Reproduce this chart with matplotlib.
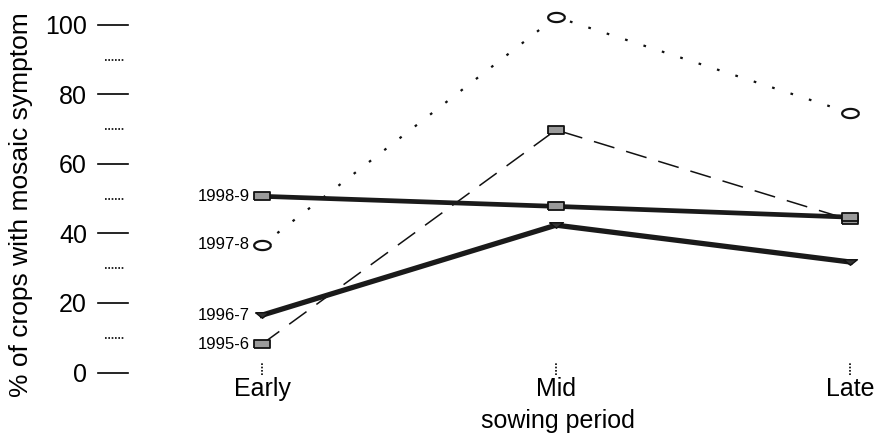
import numpy as np
import matplotlib
matplotlib.use('Agg')
import matplotlib.pyplot as plt
import matplotlib.transforms as mtransforms

plt.rcParams['font.family'] = ['Liberation Sans', 'DejaVu Sans']

periods = ['Early', 'Mid', 'Late']
period_pos = [0, 1, 2]

seasons = ['1998-9', '1997-8', '1996-7', '1995-6']
pct_1998 = [50.7, 47.8, 44.7]
pct_1997 = [36.7, 102.3, 74.7]
pct_1996 = [16.5, 42.4, 31.8]
pct_1995 = [8.2, 69.8, 43.9]

major_ticks = [0, 20, 40, 60, 80, 100]
minor_ticks = [10, 30, 50, 70, 90]

# marker shapes (flattened, as in the scanned original)
rect = [(-1, -0.45), (1, -0.45), (1, 0.45), (-1, 0.45), (-1, -0.45)]
t = np.linspace(0, 2 * np.pi, 41)
ellipse = list(zip(np.cos(t), 0.55 * np.sin(t)))
tri = [(-1, 0.4), (1, 0.4), (0, -0.4), (-1, 0.4)]

fig = plt.figure(figsize=(8.82, 4.38), dpi=100)
ax = fig.add_axes([98 / 882, 43 / 438, 777 / 882, 385 / 438])

styles = {
    '1998-9': dict(color='#1a1a1a', lw=3.4, ls='-', marker=rect, ms=12,
                   mfc='#9a9a9a', mec='#111111', mew=1.3, zorder=4),
    '1997-8': dict(color='#111111', lw=1.6, dashes=(1.2, 7.5), marker=ellipse, ms=12,
                   mfc='white', mec='#111111', mew=1.6, zorder=3),
    '1996-7': dict(color='#1a1a1a', lw=3.8, ls='-', marker=tri, ms=10,
                   mfc='#333333', mec='#111111', mew=1.0, zorder=4),
    '1995-6': dict(color='#111111', lw=1.1, dashes=(14, 8), marker=rect, ms=12,
                   mfc='#9a9a9a', mec='#111111', mew=1.3, zorder=3),
}
series = {'1998-9': pct_1998, '1997-8': pct_1997, '1996-7': pct_1996, '1995-6': pct_1995}

for name in seasons:
    vals = series[name]
    ax.plot(period_pos, vals, **styles[name])
    ax.annotate(name, (period_pos[0], vals[0]), xytext=(-9, 0), textcoords='offset points',
                ha='right', va='center', fontsize=12)

ax.set_xlim(-0.558, 2.085)
ax.set_ylim(-6.47, 104.3)

for s in ax.spines.values():
    s.set_visible(False)
ax.spines['bottom'].set_position(('data', -1.0))

# y ticks: solid majors, dotted minors
trans = mtransforms.blended_transform_factory(ax.transAxes, ax.transData)
for v in major_ticks:
    ax.plot([0, 0.0386], [v, v], transform=trans, color='k', lw=1.2, clip_on=False)
for v in minor_ticks:
    ax.plot([0.009, 0.035], [v, v], transform=trans, color='k', lw=1.2,
            ls=(0, (1, 1)), clip_on=False)
ax.set_yticks(major_ticks)
ax.set_yticklabels([str(v) for v in major_ticks], fontsize=18)

# x ticks: small dotted marks above the labels
for p in period_pos:
    ax.plot([p, p], [-0.7, 2.7], color='k', lw=1.2, ls=(0, (1, 1)), clip_on=False)
ax.set_xticks(period_pos)
ax.set_xticklabels(periods, fontsize=18)
ax.tick_params(axis='both', length=0)
ax.tick_params(axis='y', pad=8)
ax.tick_params(axis='x', pad=0.5)

ax.set_xlabel('sowing period', fontsize=18)
ax.xaxis.set_label_coords(0.592, -0.036)
ax.set_ylabel('% of crops with mosaic symptom', fontsize=19)
ax.yaxis.set_label_coords(-0.0837, 0.494)

fig.savefig('out.png', dpi=100)
